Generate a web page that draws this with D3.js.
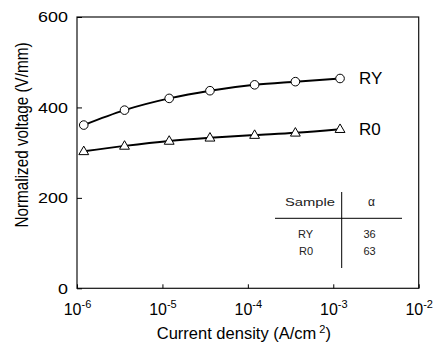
<!DOCTYPE html>
<html>
<head>
<meta charset="utf-8">
<script src="https://cdn.jsdelivr.net/npm/d3@7"></script>
<style>
  html, body { margin: 0; padding: 0; background: #fff; }
  svg { display: block; font-family: "Liberation Sans", Arial, sans-serif; }
</style>
</head>
<body>
<svg id="chart" width="436" height="347"></svg>
<script>
// ---- data ----
const currentDensity = [1.2e-6, 3.6e-6, 1.2e-5, 3.6e-5, 1.2e-4, 3.6e-4, 1.2e-3];
const seriesRY = [361, 394, 420, 437, 450, 457, 464];
const seriesR0 = [303, 315, 326, 333, 339, 344, 352];
const seriesNames = ["RY", "R0"];
const xTickExps = [-6, -5, -4, -3, -2];
const yTicks = [0, 200, 400, 600];
const tableHeader = ["Sample", "\u03b1"];
const tableSamples = ["RY", "R0"];
const tableAlpha = ["36", "63"];

// ---- layout ----
const svg = d3.select("#chart");
const m = { left: 77, top: 17, right: 418.7, bottom: 288.3 };

const x = d3.scaleLog().domain([1e-6, 1e-2]).range([m.left, m.right]);
const y = d3.scaleLinear().domain([0, 600]).range([m.bottom, m.top]);

// frame
svg.append("rect")
  .attr("x", m.left).attr("y", m.top)
  .attr("width", m.right - m.left).attr("height", m.bottom - m.top)
  .attr("fill", "none").attr("stroke", "#111").attr("stroke-width", 1.2);

// x axis ticks (inward)
const xAxis = d3.axisBottom(x)
  .tickValues(xTickExps.map(e => Math.pow(10, e)))
  .tickSize(-4).tickFormat("");
const gx = svg.append("g").attr("transform", `translate(0,${m.bottom})`).call(xAxis);
gx.select(".domain").remove();
gx.selectAll(".tick line").attr("stroke", "#000");

// y axis ticks (inward)
const yAxis = d3.axisLeft(y).tickValues(yTicks).tickSize(-5).tickFormat("");
const gy = svg.append("g").attr("transform", `translate(${m.left},0)`).call(yAxis);
gy.select(".domain").remove();
gy.selectAll(".tick line").attr("stroke", "#000");

// y tick labels (wide face)
svg.append("g").selectAll("text").data(yTicks).join("text")
  .attr("transform", d => `translate(${m.left - 9},${y(d) + 5.2}) scale(1.28,1)`)
  .attr("text-anchor", "end").attr("font-size", 14).attr("fill", "#000")
  .text(d => d);

// x tick labels with superscripts
const xl = svg.append("g").selectAll("text").data(xTickExps).join("text")
  .attr("x", d => x(Math.pow(10, d)) + 0.5)
  .attr("y", 315)
  .attr("text-anchor", "middle").attr("font-size", 16).attr("fill", "#000");
xl.append("tspan").text("10");
xl.append("tspan").attr("dy", -7).attr("font-size", 11).text(d => String(d));

// axis titles
const xt = svg.append("text")
  .attr("x", (m.left + m.right) / 2 - 4).attr("y", 339)
  .attr("text-anchor", "middle").attr("font-size", 16.5).attr("fill", "#000");
xt.append("tspan").text("Current density (A/cm");
xt.append("tspan").attr("dx", 3).attr("dy", -6).attr("font-size", 11).text("2");
xt.append("tspan").attr("dy", 6).text(")");

svg.append("text")
  .attr("transform", `translate(28,135) rotate(-90) scale(1,1.15)`)
  .attr("text-anchor", "middle").attr("font-size", 15.3).attr("fill", "#000")
  .text("Normalized voltage (V/mm)");

// lines
const line = d3.line()
  .x((d, i) => x(currentDensity[i]))
  .y(d => y(d))
  .curve(d3.curveMonotoneX);

[seriesRY, seriesR0].forEach(s => {
  svg.append("path").datum(s).attr("d", line)
    .attr("fill", "none").attr("stroke", "#000").attr("stroke-width", 2);
});

// markers: circles for RY
svg.append("g").selectAll("circle").data(seriesRY).join("circle")
  .attr("cx", (d, i) => x(currentDensity[i]))
  .attr("cy", d => y(d))
  .attr("r", 4.3)
  .attr("fill", "#fff").attr("stroke", "#000").attr("stroke-width", 1);

// markers: triangles for R0
const tri = d3.symbol().type(d3.symbolTriangle).size(42);
svg.append("g").selectAll("path").data(seriesR0).join("path")
  .attr("transform", (d, i) => `translate(${x(currentDensity[i])},${y(d) + 0.5})`)
  .attr("d", tri)
  .attr("fill", "#fff").attr("stroke", "#000").attr("stroke-width", 1);

// series labels
const lastX = x(currentDensity[currentDensity.length - 1]);
svg.append("text").attr("x", lastX + 19).attr("y", y(seriesRY[seriesRY.length - 1]) + 6)
  .attr("font-size", 17).attr("fill", "#000").text(seriesNames[0]);
svg.append("text").attr("x", lastX + 19).attr("y", y(seriesR0[seriesR0.length - 1]) + 6)
  .attr("font-size", 17).attr("fill", "#000").text(seriesNames[1]);

// inset table
const tg = svg.append("g").attr("fill", "#222").attr("font-size", 11);
tg.append("text").attr("x", 285).attr("y", 206)
  .attr("textLength", 50).attr("lengthAdjust", "spacingAndGlyphs")
  .attr("font-size", 11.5).text(tableHeader[0]);
tg.append("text").attr("x", 371.5).attr("y", 206).attr("text-anchor", "middle")
  .attr("font-size", 12).text(tableHeader[1]);
tableSamples.forEach((s, i) => {
  tg.append("text").attr("x", 313).attr("y", 237.5 + i * 17).attr("text-anchor", "end").text(s);
  tg.append("text").attr("x", 369.5).attr("y", 237.5 + i * 17).attr("text-anchor", "middle").text(tableAlpha[i]);
});
svg.append("line").attr("x1", 275).attr("x2", 402).attr("y1", 218.3).attr("y2", 218.3)
  .attr("stroke", "#000").attr("stroke-width", 1);
svg.append("line").attr("x1", 341.7).attr("x2", 341.7).attr("y1", 192).attr("y2", 268)
  .attr("stroke", "#000").attr("stroke-width", 1);
</script>
</body>
</html>
